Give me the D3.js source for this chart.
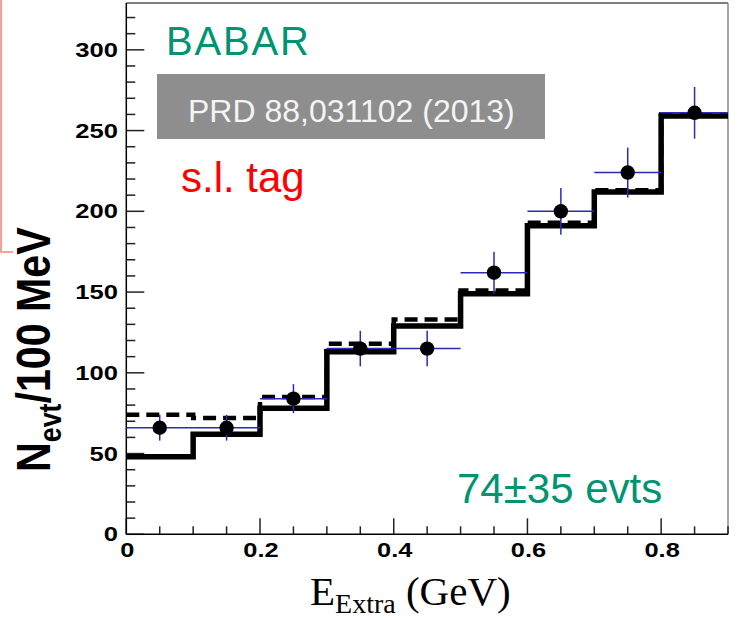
<!DOCTYPE html>
<html>
<head>
<meta charset="utf-8">
<script src="https://cdn.jsdelivr.net/npm/d3@7"></script>
<style>
  html, body { margin: 0; padding: 0; background: #fff; }
  svg { display: block; }
</style>
</head>
<body>
<svg id="chart" width="741" height="620"></svg>
<script>
// ---- data ----
const binEdges = [0, 0.1, 0.2, 0.3, 0.4, 0.5, 0.6, 0.7, 0.8, 0.9];
const solidHist = [48, 62, 78, 113, 129, 149, 191, 212, 259];
const dashedHist = [74, 72, 85, 118, 133, 151, 193, 213, 260];
const dataX = [0.05, 0.15, 0.25, 0.35, 0.45, 0.55, 0.65, 0.75, 0.85];
const dataY = [66, 66, 84, 115, 115, 162, 200, 224, 261];
const dataErr = [8, 8, 9, 11, 11, 13, 14.5, 15.5, 16];
const yTickLabels = [0, 50, 100, 150, 200, 250, 300];
const xTickLabels = [0, 0.2, 0.4, 0.6, 0.8];

const svg = d3.select("#chart");
const x = d3.scaleLinear().domain([0, 0.9]).range([126.3, 728]);
const y = d3.scaleLinear().domain([0, 329]).range([534.3, 3]);

// pink edge line (slide artefact)
svg.append("path").attr("d", "M1,0 V252 H13").attr("fill", "none")
  .attr("stroke", "#f4a39a").attr("stroke-width", 2);

// frame top / right
svg.append("line").attr("x1", x(0)).attr("x2", x(0.9)).attr("y1", y(329)).attr("y2", y(329))
  .attr("stroke", "#555").attr("stroke-width", 1.5);
svg.append("line").attr("x1", x(0.9)).attr("x2", x(0.9)).attr("y1", y(329)).attr("y2", y(0))
  .attr("stroke", "#888").attr("stroke-width", 1.5);

// y ticks (inward)
const yMinor = d3.range(0, 330, 10);
svg.append("g").selectAll("line").data(yMinor).join("line")
  .attr("x1", x(0)).attr("x2", d => x(0) + (d % 50 === 0 ? 18 : 9))
  .attr("y1", d => y(d)).attr("y2", d => y(d))
  .attr("stroke", "#222").attr("stroke-width", 1.5);
// x ticks (inward)
const xMinor = d3.range(0, 19).map(i => i * 0.05);
svg.append("g").selectAll("line").data(xMinor).join("line")
  .attr("x1", d => x(d)).attr("x2", d => x(d))
  .attr("y1", y(0)).attr("y2", (d, i) => y(0) - (i % 4 === 0 ? 16 : 8))
  .attr("stroke", "#222").attr("stroke-width", 1.5);

// axes lines
svg.append("line").attr("x1", x(0)).attr("x2", x(0)).attr("y1", y(329)).attr("y2", y(0))
  .attr("stroke", "#000").attr("stroke-width", 1.5);
svg.append("line").attr("x1", x(0)).attr("x2", x(0.9)).attr("y1", y(0)).attr("y2", y(0))
  .attr("stroke", "#000").attr("stroke-width", 1.5);

// tick labels
const lblFont = "'Liberation Sans', Arial, Helvetica, sans-serif";
svg.append("g").selectAll("text").data(yTickLabels).join("text")
  .attr("transform", d => `translate(118,${y(d) + 7}) scale(1.28,1)`)
  .attr("text-anchor", "end")
  .attr("font-family", lblFont).attr("font-weight", "bold").attr("font-size", 20)
  .text(d => d);
svg.append("g").selectAll("text").data(xTickLabels).join("text")
  .attr("transform", d => `translate(${x(d) + 1},557) scale(1.27,1)`)
  .attr("text-anchor", "middle")
  .attr("font-family", lblFont).attr("font-weight", "bold").attr("font-size", 20)
  .text(d => d === 0 ? "0" : d.toFixed(1));

// histograms
function stepPath(vals) {
  let p = "";
  vals.forEach((v, i) => {
    p += (i === 0 ? "M" : "L") + x(binEdges[i]) + "," + y(v) + "L" + x(binEdges[i + 1]) + "," + y(v);
  });
  return p;
}
svg.append("path").attr("d", stepPath(dashedHist)).attr("fill", "none")
  .attr("stroke", "#000").attr("stroke-width", 4.5).attr("stroke-dasharray", "13,7");
svg.append("path").attr("d", stepPath(solidHist)).attr("fill", "none")
  .attr("stroke", "#000").attr("stroke-width", 5.5).attr("stroke-linejoin", "miter");

// data points with error bars
const pts = svg.append("g");
dataX.forEach((dx, i) => {
  pts.append("line").attr("x1", x(dx - 0.05)).attr("x2", x(dx + 0.05))
    .attr("y1", y(dataY[i])).attr("y2", y(dataY[i]))
    .attr("stroke", "#2a2ab4").attr("stroke-width", 1.5);
  pts.append("line").attr("x1", x(dx)).attr("x2", x(dx))
    .attr("y1", y(dataY[i] - dataErr[i])).attr("y2", y(dataY[i] + dataErr[i]))
    .attr("stroke", "#2a2ab4").attr("stroke-width", 1.5);
});
pts.selectAll("circle").data(dataX).join("circle")
  .attr("cx", d => x(d)).attr("cy", (d, i) => y(dataY[i])).attr("r", 7.2).attr("fill", "#000");

// annotations
const annFont = "'Liberation Sans', Arial, Helvetica, sans-serif";
svg.append("text").attr("x", 166).attr("y", 55).attr("font-family", annFont)
  .attr("font-size", 40).attr("fill", "#009473").attr("textLength", 143).text("BABAR");
svg.append("rect").attr("x", 157).attr("y", 74).attr("width", 388).attr("height", 65).attr("fill", "#8e8e8e");
svg.append("text").attr("x", 188).attr("y", 122).attr("font-family", annFont)
  .attr("font-size", 32).attr("fill", "#f4f4f4").text("PRD 88,031102 (2013)");
svg.append("text").attr("x", 181).attr("y", 192).attr("font-family", annFont)
  .attr("font-size", 42).attr("fill", "#ff0000").text("s.l. tag");
svg.append("text").attr("x", 457).attr("y", 503).attr("font-family", annFont)
  .attr("font-size", 42).attr("fill", "#009473").text("74±35 evts");

// y title
const yt = svg.append("text")
  .attr("transform", "translate(50,472) rotate(-90) scale(1.03,1.2)")
  .attr("font-family", lblFont).attr("font-weight", "bold").attr("font-size", 40).attr("fill", "#000");
yt.append("tspan").text("N");
yt.append("tspan").attr("font-size", 26).attr("dy", 9).text("evt");
yt.append("tspan").attr("dy", -9).text("/100 MeV");

// x title
const xt = svg.append("text").attr("x", 310).attr("y", 605)
  .attr("font-family", "'Liberation Serif', 'Times New Roman', serif").attr("font-size", 41).attr("fill", "#000");
xt.append("tspan").text("E");
xt.append("tspan").attr("font-size", 28).attr("dy", 8).text("Extra");
xt.append("tspan").attr("dy", -8).text(" (GeV)");
</script>
</body>
</html>
